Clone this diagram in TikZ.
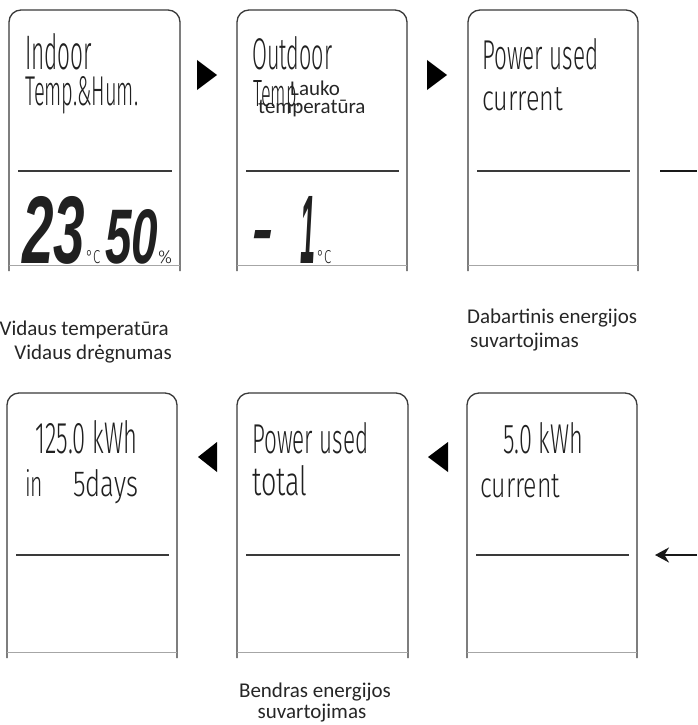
\documentclass[tikz,border=0pt]{standalone}
\usepackage{fontspec}
\usepackage{graphicx}
\usetikzlibrary{arrows.meta}
\IfFontExistsTF{Fira Sans Light}
  {\newfontfamily\lcdfont{Fira Sans Light}}
  {\newfontfamily\lcdfont{Liberation Sans}}
\newfontfamily\digfont{Liberation Sans}
\newfontfamily\labfont{Carlito}
\definecolor{outl}{HTML}{3A3A3A}
\definecolor{lcdink}{HTML}{202020}
\newcommand\lcdtxt[3]{\resizebox{#1pt}{#2pt}{\lcdfont #3}}
\newcommand\lcddig[3]{\resizebox{#1pt}{#2pt}{\digfont\bfseries\itshape #3}}
\newcommand\lcdpanel[6]{% name, left, top, right, bottom, divider
  \draw[panelline, rounded corners=12pt] (#2,#5) -- (#2,#3) -- (#4,#3) -- (#4,#5);
  \draw[bottomline] (#2,#5-6) -- (#4,#5-6);
  \draw[divider] (#2+9,#6) -- (#4-8,#6);
  \coordinate (#1) at (#2,#3);
}
\tikzset{
  panelline/.style={draw=outl, line width=1.3pt},
  bottomline/.style={draw=gray!70, line width=1pt},
  divider/.style={draw=outl, line width=1.5pt},
  lcd/.style={inner sep=0pt, anchor=base west, text=lcdink},
  lab/.style={inner sep=0pt, text=black!85, font=\labfont\fontsize{21}{24}\selectfont},
  tri/.style={fill=black, draw=none},
  link/.style={draw=black!90, line width=2.5pt},
}
\begin{document}
\begin{tikzpicture}[x=1pt,y=-1pt]
\useasboundingbox (0,0) rectangle (697,725);
\fill[white] (0,0) rectangle (697,725);

% ---------- top row ----------
\lcdpanel{p1}{9}{10}{180}{271}{171}
\lcdpanel{p2}{237}{10}{407}{271}{171}
\lcdpanel{p3}{468}{10}{638}{271}{171}

\node[lcd] (t1a) at (25,69) {\lcdtxt{67}{36}{Indoor}};
\node[lcd] (t1b) at (25,106) {\lcdtxt{113}{29}{Temp.\&Hum.}};
\node[lcd] (d1a) at (22,263) {\lcddig{63}{67}{23}};
\node[lcd] (d1b) at (86,263) {\lcdtxt{14}{13}{°C}};
\node[lcd] (d1c) at (105,263) {\lcddig{53}{54}{50}};
\node[lcd] (d1d) at (158,263) {\lcdtxt{14}{13}{\%}};

\node[lcd] (t2a) at (252,70) {\lcdtxt{80}{33}{Outdoor}};
\node[lcd] (t2b) at (253,106) {\lcdtxt{47}{26}{Temp.}};
\node[lab, anchor=base west] (l2a) at (290,95) {Lauko};
\node[lab, anchor=base west] (l2b) at (258,113) {temperatūra};
\node[lcd] (d2a) at (252,252) {\lcddig{21}{22}{-}};
\node[lcd] (d2b) at (300,263) {\lcddig{15}{67}{1}};
\node[lcd] (d2c) at (317,263) {\lcdtxt{14}{13}{°C}};

\node[lcd] (t3a) at (482,70) {\lcdtxt{116}{31}{Power used}};
\node[lcd] (t3b) at (482,110) {\lcdtxt{81}{23}{current}};

\fill[tri] (197,60) -- (217,75) -- (197,90) -- cycle;
\fill[tri] (427,60) -- (447,75) -- (427,90) -- cycle;

\coordinate (outT) at (660,171);
\coordinate (edgeT) at (697,171);
\draw[link] (outT) -- (edgeT);

% ---------- bottom row ----------
\lcdpanel{p4}{7}{393}{177}{658}{555}
\lcdpanel{p5}{237}{393}{408}{658}{555}
\lcdpanel{p6}{467}{393}{637}{658}{555}

\node[lcd] (t4a) at (35,453) {\lcdtxt{102}{33}{125.0 kWh}};
\node[lcd] (t4b) at (25,496) {\lcdtxt{18}{27}{in}};
\node[lcd] (t4c) at (73,496) {\lcdtxt{65}{27}{5days}};

\node[lcd] (t5a) at (252,453) {\lcdtxt{116}{31}{Power used}};
\node[lcd] (t5b) at (252,495) {\lcdtxt{55}{30}{total}};

\node[lcd] (t6a) at (503,453) {\lcdtxt{80}{31}{5.0 kWh}};
\node[lcd] (t6b) at (480,497) {\lcdtxt{80}{23}{current}};

\fill[tri] (217,442) -- (198,457) -- (217,472) -- cycle;
\fill[tri] (448,442) -- (428,457) -- (448,472) -- cycle;

\coordinate (edgeB) at (697,555);
\coordinate (inB) at (655,555);
\draw[link, -{Stealth[length=14pt,width=15pt]}] (edgeB) -- (inB);

% ---------- captions ----------
\node[lab, anchor=base east] (c1) at (169,335) {Vidaus temperatūra};
\node[lab, anchor=base east] (c2) at (172,359) {Vidaus drėgnumas};
\node[lab, anchor=base west] (c3) at (467,323) {Dabartinis energijos};
\node[lab, anchor=base west] (c4) at (470,347) {suvartojimas};
\node[lab, anchor=base] (c5) at (315,697) {Bendras energijos};
\node[lab, anchor=base] (c6) at (312,718) {suvartojimas};
\end{tikzpicture}
\end{document}
